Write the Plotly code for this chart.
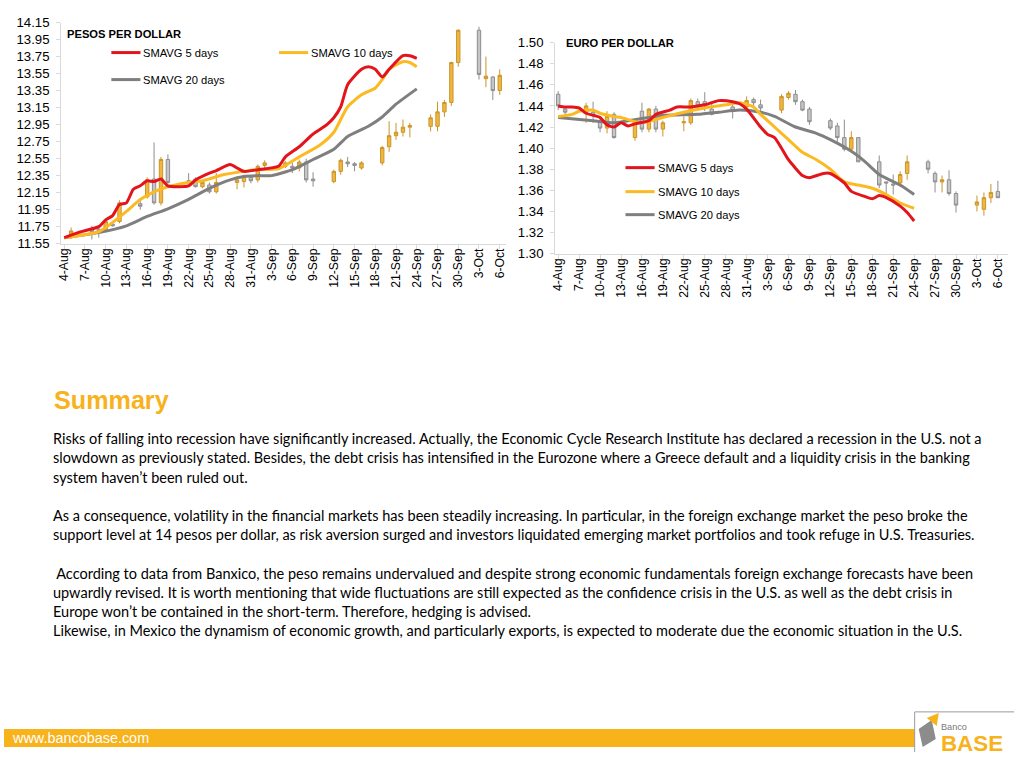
import plotly.graph_objects as go

W, H = 1024, 768

# ---------------- DATA ----------------
# Pesos per dollar candles (2011)
P_DATES = ["2011-08-05", "2011-08-08", "2011-08-09", "2011-08-10", "2011-08-11", "2011-08-12",
           "2011-08-15", "2011-08-16", "2011-08-17", "2011-08-18", "2011-08-19",
           "2011-08-22", "2011-08-23", "2011-08-24", "2011-08-25", "2011-08-26",
           "2011-08-29", "2011-08-30", "2011-08-31", "2011-09-01", "2011-09-02",
           "2011-09-05", "2011-09-06", "2011-09-07", "2011-09-08", "2011-09-09",
           "2011-09-12", "2011-09-13", "2011-09-14", "2011-09-15", "2011-09-16",
           "2011-09-19", "2011-09-20", "2011-09-21", "2011-09-22", "2011-09-23",
           "2011-09-26", "2011-09-27", "2011-09-28", "2011-09-29", "2011-09-30",
           "2011-10-03", "2011-10-04", "2011-10-05", "2011-10-06"]
P_OPEN = [11.62, 11.71, 11.72, 11.71, 11.78, 11.81, 12.02, 12.10, 12.31, 12.03, 12.54, 12.29, 12.31,
          12.22, 12.24, 12.16, 12.27, 12.28, 12.33, 12.30, 12.47, 12.46, 12.46, 12.44, 12.51, 12.31,
          12.28, 12.40, 12.51, 12.49, 12.44, 12.50, 12.69, 12.82, 12.86, 12.92, 12.93, 12.93, 13.10,
          13.21, 13.68, 14.06, 13.49, 13.51, 13.35]
P_HIGH = [11.74, 11.76, 11.75, 11.84, 11.79, 12.06, 12.06, 12.33, 12.74, 12.57, 12.60, 12.38, 12.33,
          12.29, 12.27, 12.38, 12.34, 12.36, 12.35, 12.48, 12.53, 12.52, 12.50, 12.54, 12.55, 12.39,
          12.42, 12.55, 12.57, 12.51, 12.52, 12.70, 12.99, 12.97, 13.01, 12.97, 13.07, 13.22, 13.24,
          13.69, 14.07, 14.10, 13.75, 13.52, 13.60]
P_LOW = [11.61, 11.60, 11.62, 11.69, 11.75, 11.79, 11.95, 12.08, 12.01, 12.00, 12.25, 12.22, 12.21,
         12.20, 12.14, 12.14, 12.19, 12.21, 12.26, 12.27, 12.44, 12.44, 12.38, 12.40, 12.27, 12.22,
         12.26, 12.36, 12.45, 12.40, 12.42, 12.47, 12.63, 12.77, 12.81, 12.80, 12.87, 12.87, 13.04,
         13.17, 13.63, 13.48, 13.39, 13.24, 13.30]
P_CLOSE = [11.70, 11.69, 11.70, 11.81, 11.76, 12.03, 11.99, 12.30, 12.03, 12.54, 12.27, 12.27, 12.22,
           12.27, 12.16, 12.27, 12.30, 12.34, 12.29, 12.46, 12.50, 12.50, 12.44, 12.51, 12.30, 12.29,
           12.40, 12.53, 12.49, 12.47, 12.50, 12.68, 12.82, 12.86, 12.92, 12.94, 13.03, 13.10, 13.21,
           13.68, 14.06, 13.54, 13.52, 13.35, 13.53]

# Pesos moving averages
P_MA5_DATES = ["2011-08-04", "2011-08-06", "2011-08-09", "2011-08-10", "2011-08-11", "2011-08-12",
               "2011-08-13", "2011-08-14", "2011-08-15", "2011-08-16", "2011-08-17", "2011-08-18",
               "2011-08-19", "2011-08-22", "2011-08-23", "2011-08-25", "2011-08-26", "2011-08-28",
               "2011-08-29", "2011-08-30", "2011-09-01", "2011-09-04", "2011-09-05", "2011-09-07",
               "2011-09-09", "2011-09-11", "2011-09-12", "2011-09-13", "2011-09-14", "2011-09-16",
               "2011-09-17", "2011-09-18", "2011-09-19", "2011-09-20", "2011-09-22", "2011-09-23",
               "2011-09-24"]
P_MA5 = [11.62, 11.68, 11.75, 11.83, 11.88, 12.01, 12.03, 12.19, 12.23, 12.29, 12.28, 12.31, 12.23,
         12.23, 12.30, 12.38, 12.41, 12.48, 12.44, 12.40, 12.42, 12.46, 12.57, 12.69, 12.84, 12.95,
         13.03, 13.16, 13.42, 13.60, 13.63, 13.60, 13.51, 13.60, 13.76, 13.76, 13.73]
P_MA10_DATES = ["2011-08-04", "2011-08-09", "2011-08-11", "2011-08-13", "2011-08-15", "2011-08-17",
                "2011-08-19", "2011-08-22", "2011-08-24", "2011-08-27", "2011-08-30", "2011-09-01",
                "2011-09-04", "2011-09-07", "2011-09-10", "2011-09-12", "2011-09-14", "2011-09-16",
                "2011-09-18", "2011-09-19", "2011-09-20", "2011-09-22", "2011-09-23", "2011-09-24"]
P_MA10 = [11.62, 11.69, 11.80, 11.93, 12.07, 12.16, 12.22, 12.27, 12.29, 12.36, 12.40, 12.42, 12.43,
          12.57, 12.71, 12.86, 13.16, 13.30, 13.38, 13.48, 13.60, 13.69, 13.68, 13.63]
P_MA20_DATES = ["2011-08-04", "2011-08-09", "2011-08-13", "2011-08-16", "2011-08-19", "2011-08-22",
                "2011-08-25", "2011-08-28", "2011-08-30", "2011-09-01", "2011-09-03", "2011-09-06",
                "2011-09-09", "2011-09-12", "2011-09-14", "2011-09-17", "2011-09-19", "2011-09-21",
                "2011-09-24"]
P_MA20 = [11.62, 11.68, 11.76, 11.87, 11.96, 12.07, 12.20, 12.30, 12.34, 12.35, 12.35, 12.42, 12.54,
          12.66, 12.81, 12.93, 13.04, 13.19, 13.37]

# Euro per dollar candles
E_DATES = ["2011-08-04", "2011-08-05", "2011-08-08", "2011-08-09", "2011-08-10", "2011-08-11",
           "2011-08-12", "2011-08-15", "2011-08-16", "2011-08-17", "2011-08-18", "2011-08-19",
           "2011-08-22", "2011-08-23", "2011-08-24", "2011-08-25", "2011-08-26", "2011-08-29",
           "2011-08-31", "2011-09-01", "2011-09-02", "2011-09-05", "2011-09-06", "2011-09-07",
           "2011-09-08", "2011-09-09", "2011-09-12", "2011-09-13", "2011-09-14", "2011-09-15",
           "2011-09-16", "2011-09-19", "2011-09-20", "2011-09-21", "2011-09-22", "2011-09-23",
           "2011-09-26", "2011-09-27", "2011-09-28", "2011-09-29", "2011-09-30", "2011-10-03",
           "2011-10-04", "2011-10-05", "2011-10-06"]
E_OPEN = [1.451, 1.437, 1.434, 1.434, 1.425, 1.419, 1.432, 1.410, 1.435, 1.418, 1.437, 1.418, 1.424,
          1.424, 1.444, 1.444, 1.437, 1.439, 1.439, 1.446, 1.441, 1.436, 1.448, 1.451, 1.444, 1.437,
          1.426, 1.421, 1.410, 1.399, 1.410, 1.387, 1.368, 1.366, 1.367, 1.376, 1.387, 1.376, 1.368,
          1.370, 1.357, 1.346, 1.342, 1.353, 1.359]
E_HIGH = [1.454, 1.439, 1.443, 1.444, 1.429, 1.435, 1.434, 1.427, 1.443, 1.438, 1.440, 1.426, 1.430,
          1.447, 1.447, 1.453, 1.442, 1.441, 1.449, 1.448, 1.446, 1.451, 1.454, 1.455, 1.446, 1.439,
          1.428, 1.424, 1.427, 1.416, 1.410, 1.393, 1.368, 1.375, 1.378, 1.393, 1.389, 1.378, 1.374,
          1.379, 1.359, 1.355, 1.358, 1.366, 1.369]
E_LOW = [1.436, 1.430, 1.424, 1.424, 1.415, 1.414, 1.409, 1.407, 1.415, 1.415, 1.415, 1.411, 1.416,
         1.422, 1.437, 1.435, 1.431, 1.428, 1.436, 1.439, 1.435, 1.433, 1.446, 1.441, 1.435, 1.422,
         1.417, 1.406, 1.397, 1.397, 1.387, 1.362, 1.354, 1.356, 1.363, 1.370, 1.376, 1.358, 1.358,
         1.355, 1.339, 1.340, 1.336, 1.348, 1.353]
E_CLOSE = [1.440, 1.434, 1.440, 1.431, 1.419, 1.430, 1.410, 1.425, 1.418, 1.437, 1.418, 1.424, 1.425,
           1.445, 1.440, 1.441, 1.432, 1.435, 1.445, 1.443, 1.438, 1.449, 1.452, 1.444, 1.436, 1.425,
           1.419, 1.410, 1.399, 1.410, 1.387, 1.365, 1.367, 1.365, 1.375, 1.387, 1.380, 1.368, 1.370,
           1.357, 1.346, 1.349, 1.353, 1.358, 1.353]

# Euro moving averages
E_MA5_DATES = ["2011-08-04", "2011-08-05", "2011-08-06", "2011-08-07", "2011-08-08", "2011-08-10",
               "2011-08-11", "2011-08-12", "2011-08-13", "2011-08-14", "2011-08-15", "2011-08-17",
               "2011-08-18", "2011-08-20", "2011-08-21", "2011-08-23", "2011-08-25", "2011-08-27",
               "2011-08-29", "2011-08-30", "2011-08-31", "2011-09-02", "2011-09-03", "2011-09-04",
               "2011-09-06", "2011-09-07", "2011-09-08", "2011-09-09", "2011-09-11", "2011-09-12",
               "2011-09-14", "2011-09-15", "2011-09-17", "2011-09-18", "2011-09-19", "2011-09-20",
               "2011-09-22", "2011-09-23", "2011-09-24"]
E_MA5 = [1.440, 1.439, 1.439, 1.438, 1.433, 1.429, 1.422, 1.420, 1.424, 1.421, 1.423, 1.426, 1.432,
         1.436, 1.439, 1.439, 1.441, 1.445, 1.444, 1.442, 1.437, 1.420, 1.413, 1.410, 1.389, 1.381,
         1.374, 1.372, 1.376, 1.376, 1.367, 1.359, 1.354, 1.352, 1.355, 1.353, 1.345, 1.339, 1.331]
E_MA10_DATES = ["2011-08-04", "2011-08-06", "2011-08-07", "2011-08-09", "2011-08-10", "2011-08-12",
                "2011-08-13", "2011-08-15", "2011-08-16", "2011-08-19", "2011-08-22", "2011-08-25",
                "2011-08-28", "2011-08-30", "2011-09-01", "2011-09-02", "2011-09-04", "2011-09-06",
                "2011-09-08", "2011-09-10", "2011-09-12", "2011-09-14", "2011-09-16", "2011-09-18",
                "2011-09-20", "2011-09-22", "2011-09-24"]
E_MA10 = [1.430, 1.432, 1.435, 1.436, 1.433, 1.430, 1.429, 1.425, 1.424, 1.429, 1.434, 1.438, 1.441,
          1.443, 1.439, 1.432, 1.420, 1.408, 1.396, 1.389, 1.380, 1.368, 1.365, 1.362, 1.356, 1.348,
          1.343]
E_MA20_DATES = ["2011-08-04", "2011-08-09", "2011-08-12", "2011-08-15", "2011-08-19", "2011-08-24",
                "2011-08-27", "2011-08-30", "2011-09-02", "2011-09-04", "2011-09-07", "2011-09-10",
                "2011-09-12", "2011-09-15", "2011-09-17", "2011-09-19", "2011-09-22", "2011-09-24"]
E_MA20 = [1.429, 1.426, 1.424, 1.427, 1.431, 1.432, 1.434, 1.436, 1.434, 1.430, 1.420, 1.414, 1.408,
          1.397, 1.387, 1.375, 1.365, 1.356]

# Tick labels
X_TICK_DATES = ["2011-08-04", "2011-08-07", "2011-08-10", "2011-08-13", "2011-08-16", "2011-08-19",
                "2011-08-22", "2011-08-25", "2011-08-28", "2011-08-31", "2011-09-03", "2011-09-06",
                "2011-09-09", "2011-09-12", "2011-09-15", "2011-09-18", "2011-09-21", "2011-09-24",
                "2011-09-27", "2011-09-30", "2011-10-03", "2011-10-06"]
X_TICK_TEXT = ["4-Aug", "7-Aug", "10-Aug", "13-Aug", "16-Aug", "19-Aug", "22-Aug", "25-Aug", "28-Aug",
               "31-Aug", "3-Sep", "6-Sep", "9-Sep", "12-Sep", "15-Sep", "18-Sep", "21-Sep", "24-Sep",
               "27-Sep", "30-Sep", "3-Oct", "6-Oct"]
P_YTICKS = [11.55, 11.75, 11.95, 12.15, 12.35, 12.55, 12.75, 12.95, 13.15, 13.35, 13.55, 13.75, 13.95, 14.15]
E_YTICKS = [1.30, 1.32, 1.34, 1.36, 1.38, 1.40, 1.42, 1.44, 1.46, 1.48, 1.50]

SERIES_NAMES = ["SMAVG 5 days", "SMAVG 10 days", "SMAVG 20 days"]

SUMMARY_LINES = [
    "Risks of falling into recession have significantly increased. Actually, the Economic Cycle Research Institute has declared a recession in the U.S. not a",
    "slowdown as previously stated. Besides, the debt crisis has intensified in the Eurozone where a Greece default and a liquidity crisis in the banking",
    "system haven\u2019t been ruled out.",
    "",
    "As a consequence, volatility in the financial markets has been steadily increasing. In particular, in the foreign exchange market the peso broke the",
    "support level at 14 pesos per dollar, as risk aversion surged and investors liquidated emerging market portfolios and took refuge in U.S. Treasuries.",
    "",
    "\u00a0According to data from Banxico, the peso remains undervalued and despite strong economic fundamentals foreign exchange forecasts have been",
    "upwardly revised. It is worth mentioning that wide fluctuations are still expected as the confidence crisis in the U.S. as well as the debt crisis in",
    "Europe won\u2019t be contained in the short-term. Therefore, hedging is advised.",
    "Likewise, in Mexico the dynamism of economic growth, and particularly exports, is expected to moderate due the economic situation in the U.S.",
]

# ---------------- STYLE ----------------
RED = "#E3141B"
ORANGE = "#FBBA22"
GRAY = "#7F7F7F"
BRAND = "#F7B21C"
AXC = "#D9D9D9"
CHART_FONT = "Liberation Sans, Arial, sans-serif"
BODY_FONT = "Lato, sans-serif"

# The captured picture is slightly scaled about its centre; compensate so that
# slide-pixel positions land where intended.
SX, OX = 0.991, 6.1
SY, OY = 0.980, 7.45
FS = 1.015  # font compensation


def px(x):
    return ((x - OX) / SX) / W


def py(y):
    return 1 - ((y - OY) / SY) / H


fig = go.Figure()

candle_style = dict(
    increasing=dict(line=dict(color="#C9952A", width=1), fillcolor="#F2B640"),
    decreasing=dict(line=dict(color="#8E8E8E", width=1), fillcolor="#C6C6C6"),
    showlegend=False, hoverinfo="skip", whiskerwidth=0,
)

fig.add_trace(go.Candlestick(x=P_DATES, open=P_OPEN, high=P_HIGH, low=P_LOW, close=P_CLOSE,
                             xaxis="x", yaxis="y", **candle_style))
fig.add_trace(go.Candlestick(x=E_DATES, open=E_OPEN, high=E_HIGH, low=E_LOW, close=E_CLOSE,
                             xaxis="x2", yaxis="y2", **candle_style))

line_defs = [
    (P_MA20_DATES, P_MA20, GRAY, "x", "y"),
    (P_MA10_DATES, P_MA10, ORANGE, "x", "y"),
    (P_MA5_DATES, P_MA5, RED, "x", "y"),
    (E_MA20_DATES, E_MA20, GRAY, "x2", "y2"),
    (E_MA10_DATES, E_MA10, ORANGE, "x2", "y2"),
    (E_MA5_DATES, E_MA5, RED, "x2", "y2"),
]
for xs, ys, col, xa, ya in line_defs:
    fig.add_trace(go.Scatter(x=xs, y=ys, mode="lines", xaxis=xa, yaxis=ya,
                             line=dict(color=col, width=3, shape="spline", smoothing=0.6),
                             showlegend=False, hoverinfo="skip"))

common_x = dict(type="date", tickmode="array", tickvals=X_TICK_DATES, ticktext=X_TICK_TEXT,
                tickangle=-90, showgrid=False, showline=True, linecolor=AXC, linewidth=1,
                ticks="outside", ticklen=4, tickcolor=AXC, ticklabelstandoff=-5,
                tickfont=dict(family=CHART_FONT, size=12 * FS, color="#000000"),
                rangeslider=dict(visible=False), zeroline=False, fixedrange=True)
common_y = dict(showgrid=False, showline=True, linecolor=AXC, linewidth=1, ticks="outside",
                ticklen=4, tickcolor=AXC, tickformat=".2f", tickmode="array",
                tickfont=dict(family=CHART_FONT, size=13 * FS, color="#000000"),
                zeroline=False, ticklabelstandoff=4, fixedrange=True)

fig.update_layout(
    width=W, height=H, margin=dict(l=0, r=0, t=0, b=0),
    paper_bgcolor="white", plot_bgcolor="white", showlegend=False,
    xaxis=dict(common_x, domain=[px(63), px(506)], anchor="y",
               range=["2011-08-03 13:20", "2011-10-06 21:40"]),
    yaxis=dict(common_y, domain=[py(244), py(23)], anchor="x", range=[11.55, 14.15],
               tickvals=P_YTICKS),
    xaxis2=dict(common_x, domain=[px(555), px(1006)], anchor="y2",
                range=["2011-08-03 13:40", "2011-10-07 11:00"]),
    yaxis2=dict(common_y, domain=[py(254), py(43)], anchor="x2", range=[1.30, 1.50],
                tickvals=E_YTICKS),
)

shapes = []
annotations = []


def text(x, y, s, size, color="#000000", family=CHART_FONT, bold=False, xanchor="left"):
    annotations.append(dict(
        x=px(x), y=py(y), xref="paper", yref="paper", text=("<b>%s</b>" % s) if bold else s,
        showarrow=False, xanchor=xanchor, yanchor="middle",
        font=dict(family=family, size=size * FS, color=color)))


def legend_item(x, y, col, label):
    shapes.append(dict(type="line", xref="paper", yref="paper", x0=px(x), x1=px(x + 29),
                       y0=py(y), y1=py(y), line=dict(color=col, width=3)))
    text(x + 30, y, label, 11)


# Chart titles & legends
text(67, 34, "PESOS PER DOLLAR", 11, bold=True)
legend_item(113, 53, RED, SERIES_NAMES[0])
legend_item(280, 53, ORANGE, SERIES_NAMES[1])
legend_item(113, 80, GRAY, SERIES_NAMES[2])

text(564, 43, "EURO PER DOLLAR", 11, bold=True)
legend_item(625, 168, RED, SERIES_NAMES[0])
legend_item(625, 192, ORANGE, SERIES_NAMES[1])
legend_item(625, 215, GRAY, SERIES_NAMES[2])

# Summary
text(54, 400, "Summary", 24.8, color=BRAND, bold=True)
y0 = 439
for i, line in enumerate(SUMMARY_LINES):
    if line:
        text(53, y0 + i * 19.2, line, 14.3, color="#000000", family=BODY_FONT)

# Footer bar
shapes.append(dict(type="rect", xref="paper", yref="paper", x0=0, x1=px(913),
                   y0=py(747), y1=py(729), fillcolor=BRAND, line=dict(width=0)))
text(12, 738, "www.bancobase.com", 14.2, color="white")

# Logo box
shapes.append(dict(type="line", xref="paper", yref="paper", x0=px(913), x1=px(1012),
                   y0=py(712), y1=py(712), line=dict(color="#9A9A9A", width=1)))
shapes.append(dict(type="line", xref="paper", yref="paper", x0=px(913), x1=px(913),
                   y0=py(712), y1=py(752), line=dict(color="#9A9A9A", width=1)))


def path(points):
    return "M " + " L ".join("%f,%f" % (px(a), py(b)) for a, b in points) + " Z"


shapes.append(dict(type="path", xref="paper", yref="paper",
                   path=path([(917, 729), (930, 720), (934, 739), (921, 747)]),
                   fillcolor="#8C8C8C", line=dict(width=0)))
shapes.append(dict(type="path", xref="paper", yref="paper",
                   path=path([(925, 718), (937, 713), (935, 726)]),
                   fillcolor=BRAND, line=dict(width=0)))
text(937, 727, "Banco", 9, color="#7A7A7A")
text(937, 744, "BASE", 22, color=BRAND, bold=True)

fig.update_layout(shapes=shapes, annotations=annotations)

POST = (
    "document.documentElement.style.margin='0';"
    "document.documentElement.style.overflow='hidden';"
    "document.body.style.margin='0';"
    "document.body.style.overflow='hidden';"
    "var d=document.getElementById('{plot_id}');"
    "d.style.position='absolute';d.style.left='0px';d.style.top='0px';"
)
fig.write_html("out.html", config={"displayModeBar": False}, post_script=POST)
